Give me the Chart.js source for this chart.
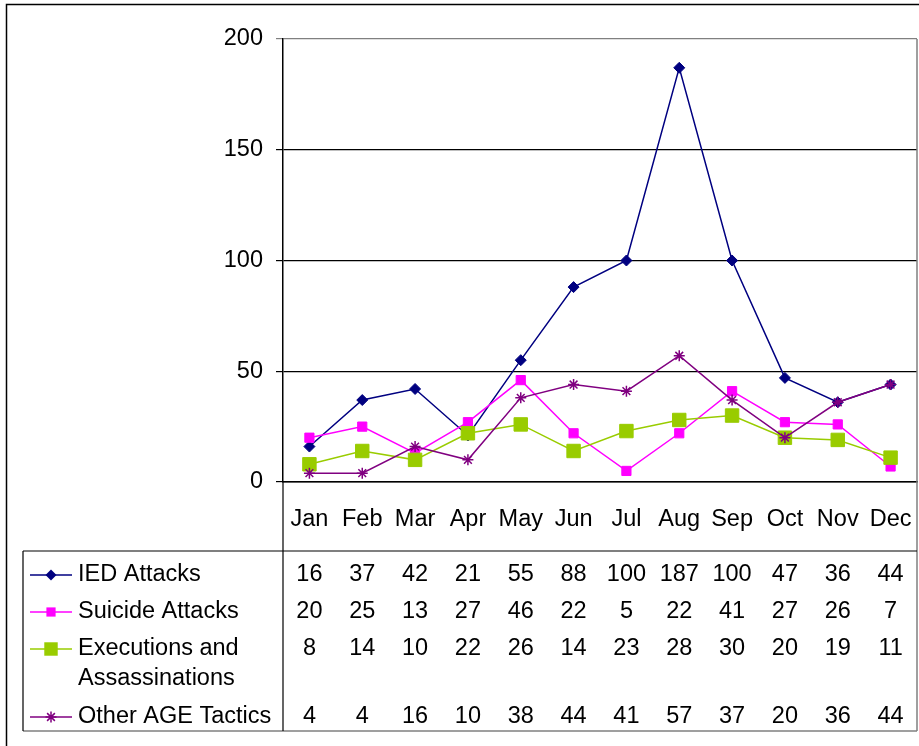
<!DOCTYPE html>
<html>
<head>
<meta charset="utf-8">
<script src="https://cdn.jsdelivr.net/npm/chart.js@4/dist/chart.umd.min.js"></script>
<style>
  html, body { margin: 0; padding: 0; background: #fff; }
  #wrap { width: 919px; height: 746px; position: relative; }
</style>
</head>
<body>
<div id="wrap"><canvas id="chart"></canvas></div>
<script>
// data
const months = ['Jan', 'Feb', 'Mar', 'Apr', 'May', 'Jun', 'Jul', 'Aug', 'Sep', 'Oct', 'Nov', 'Dec'];
const seriesNames = [['IED Attacks'], ['Suicide Attacks'], ['Executions and', 'Assassinations'], ['Other AGE Tactics']];
const iedAttacks = [16, 37, 42, 21, 55, 88, 100, 187, 100, 47, 36, 44];
const suicideAttacks = [20, 25, 13, 27, 46, 22, 5, 22, 41, 27, 26, 7];
const executions = [8, 14, 10, 22, 26, 14, 23, 28, 30, 20, 19, 11];
const otherTactics = [4, 4, 16, 10, 38, 44, 41, 57, 37, 20, 36, 44];
const yMax = 200;
const yStep = 50;

const FONT = '"Liberation Sans", Arial, sans-serif';
const FONT_SIZE = 23.5;

function series(name, data, color, style, radius, order) {
  return {
    label: name.join(' '),
    data,
    borderColor: color,
    backgroundColor: color,
    borderWidth: 1.5,
    pointStyle: style,
    pointRadius: radius,
    pointBorderWidth: style === 'star' ? 1.5 : 1,
    pointHoverRadius: radius,
    tension: 0,
    order
  };
}

// table + frame drawn after the chart
const tablePlugin = {
  id: 'dataTable',
  afterDraw(chart) {
    const ctx = chart.ctx;
    const x = chart.scales.x;
    const area = chart.chartArea;
    const tableTop = 551, tableBottom = 731, tableLeft = 23;
    const rowY = [575, 612, 649, 717];
    const wrapGap = 30;

    ctx.save();
    // outer frame
    ctx.strokeStyle = '#000';
    ctx.lineWidth = 1.5;
    ctx.beginPath();
    ctx.moveTo(6.5, 746); ctx.lineTo(6.5, 4.5); ctx.lineTo(919, 4.5);
    ctx.stroke();

    // plot right edge + table bottom (gray)
    ctx.lineWidth = 1.5;
    ctx.strokeStyle = '#808080';
    ctx.beginPath();
    ctx.moveTo(area.right, area.top); ctx.lineTo(area.right, tableBottom);
    ctx.moveTo(tableLeft, tableBottom); ctx.lineTo(area.right, tableBottom);
    ctx.stroke();

    // table lines
    ctx.strokeStyle = '#000';
    ctx.lineWidth = 1.2;
    ctx.beginPath();
    ctx.moveTo(tableLeft, tableTop); ctx.lineTo(area.right, tableTop);
    ctx.moveTo(tableLeft, tableTop); ctx.lineTo(tableLeft, tableBottom);
    ctx.moveTo(area.left, area.bottom); ctx.lineTo(area.left, tableBottom);
    ctx.stroke();

    ctx.font = FONT_SIZE + 'px ' + FONT;
    ctx.textBaseline = 'middle';
    chart.data.datasets.forEach((ds, i) => {
      const y = rowY[i];
      // legend key
      ctx.strokeStyle = ds.borderColor;
      ctx.fillStyle = ds.backgroundColor;
      ctx.lineWidth = 1.5;
      ctx.beginPath();
      ctx.moveTo(30, y); ctx.lineTo(72, y);
      ctx.stroke();
      drawKey(ctx, ds.pointStyle, 51, y, ds.pointRadius);

      // name
      ctx.fillStyle = '#000';
      ctx.textAlign = 'left';
      seriesNames[i].forEach((line, k) => ctx.fillText(line, 78, y + k * wrapGap));

      // values
      ctx.textAlign = 'center';
      ds.data.forEach((v, j) => ctx.fillText(String(v), x.getPixelForValue(j), y));
    });
    ctx.restore();
  }
};

function drawKey(ctx, style, cx, cy, r) {
  ctx.beginPath();
  if (style === 'rectRot') {
    ctx.moveTo(cx - r, cy); ctx.lineTo(cx, cy - r); ctx.lineTo(cx + r, cy); ctx.lineTo(cx, cy + r);
    ctx.closePath(); ctx.fill();
  } else if (style === 'rect') {
    const h = r * Math.SQRT1_2;
    ctx.fillRect(cx - h, cy - h, 2 * h, 2 * h);
  } else if (style === 'star') {
    const d = r * Math.SQRT1_2;
    ctx.moveTo(cx, cy - r); ctx.lineTo(cx, cy + r);
    ctx.moveTo(cx - r, cy); ctx.lineTo(cx + r, cy);
    ctx.moveTo(cx - d, cy - d); ctx.lineTo(cx + d, cy + d);
    ctx.moveTo(cx - d, cy + d); ctx.lineTo(cx + d, cy - d);
    ctx.stroke();
  }
}

new Chart(document.getElementById('chart'), {
  type: 'line',
  data: {
    labels: months,
    datasets: [
      series(seriesNames[0], iedAttacks, '#000080', 'rectRot', 5.5, 3),
      series(seriesNames[1], suicideAttacks, '#FF00FF', 'rect', 6.5, 2),
      series(seriesNames[2], executions, '#99CC00', 'rect', 9.5, 1),
      series(seriesNames[3], otherTactics, '#800080', 'star', 5.5, 0)
    ]
  },
  options: {
    responsive: true,
    maintainAspectRatio: false,
    animation: false,
    events: [],
    layout: { autoPadding: false, padding: { top: 39, right: 2, left: 0, bottom: 0 } },
    plugins: { legend: { display: false }, tooltip: { enabled: false } },
    scales: {
      x: {
        offset: true,
        grid: { drawOnChartArea: false, drawTicks: false },
        border: { color: '#000', width: 1.5 },
        ticks: { color: '#000', padding: 23, font: { family: FONT, size: FONT_SIZE }, maxRotation: 0, autoSkip: false },
        afterFit(scale) {
          scale.height = 264;
          scale.paddingLeft = 0;
          scale.paddingRight = 0;
        }
      },
      y: {
        min: 0,
        max: yMax,
        grid: {
          color: c => (c.tick && c.tick.value === yMax ? '#808080' : '#000'),
          lineWidth: 1.2,
          tickLength: 7
        },
        border: { color: '#000', width: 1.5 },
        ticks: { stepSize: yStep, color: '#000', padding: 13, font: { family: FONT, size: FONT_SIZE } },
        afterFit(scale) { scale.width = 283; }
      }
    }
  },
  plugins: [tablePlugin]
});
</script>
</body>
</html>
